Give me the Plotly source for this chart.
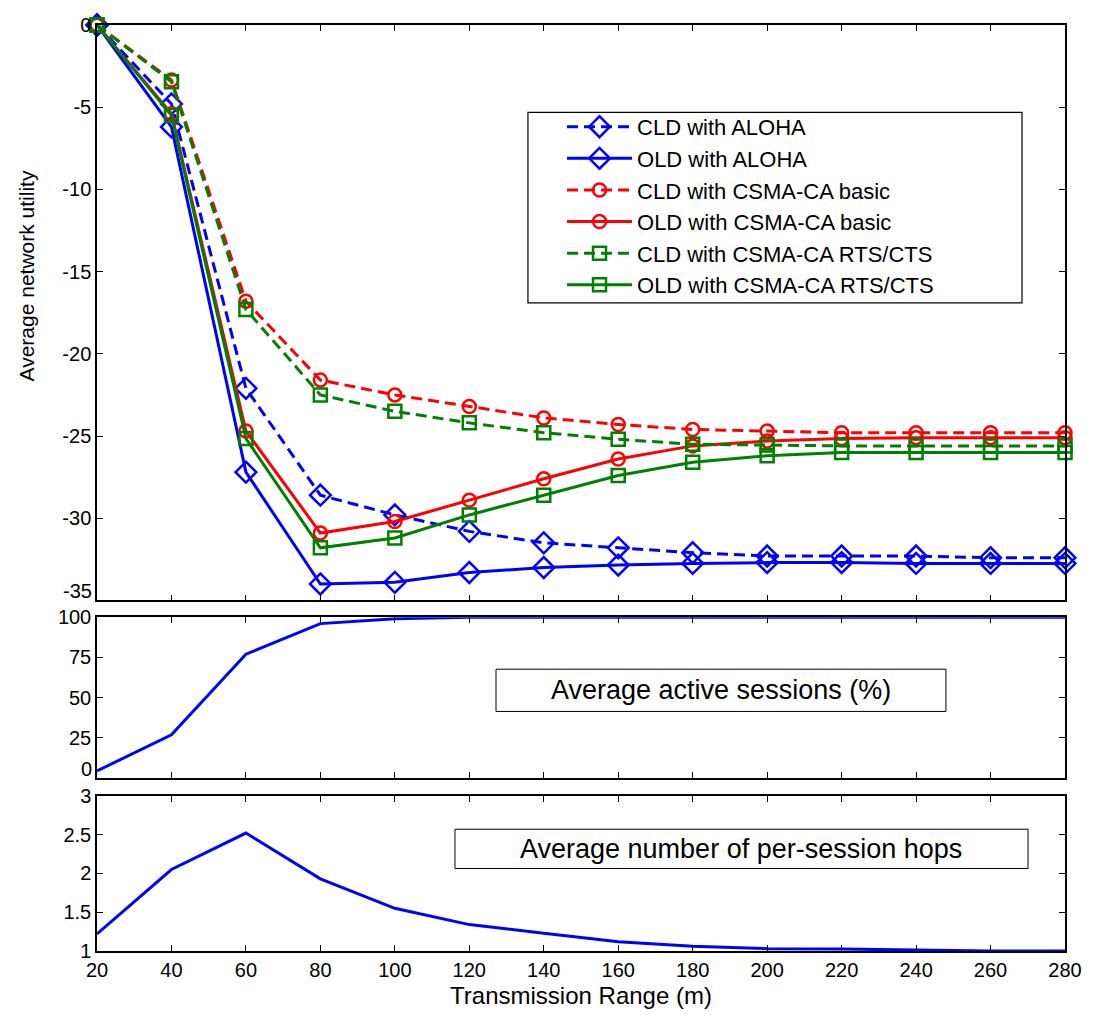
import plotly.graph_objects as go

# ---------------- data ----------------
tx_range = [20, 40, 60, 80, 100, 120, 140, 160, 180, 200, 220, 240, 260, 280]

cld_aloha = [0, -4.8, -22.1, -28.6, -29.8, -30.8, -31.5, -31.8, -32.1, -32.3, -32.3, -32.3, -32.4, -32.4]
old_aloha = [0, -6.2, -27.2, -34.0, -33.9, -33.3, -33.0, -32.85, -32.75, -32.7, -32.7, -32.75, -32.75, -32.75]
cld_basic = [0, -3.35, -16.8, -21.6, -22.5, -23.2, -23.9, -24.3, -24.6, -24.7, -24.8, -24.8, -24.8, -24.8]
old_basic = [0, -5.4, -24.7, -30.9, -30.2, -28.9, -27.6, -26.4, -25.6, -25.3, -25.15, -25.1, -25.1, -25.1]
cld_rts = [0, -3.45, -17.3, -22.5, -23.5, -24.2, -24.8, -25.2, -25.5, -25.55, -25.6, -25.6, -25.6, -25.6]
old_rts = [0, -5.5, -25.15, -31.8, -31.2, -29.8, -28.6, -27.4, -26.6, -26.2, -26.0, -26.0, -26.0, -26.0]

active_sessions = [4.5, 27, 77, 96, 99, 100, 100, 100, 100, 100, 100, 100, 100, 100]
hops = [1.22, 2.05, 2.52, 1.93, 1.55, 1.34, 1.23, 1.12, 1.06, 1.03, 1.025, 1.01, 1.0, 1.0]

series_names = ["CLD with ALOHA", "OLD with ALOHA", "CLD with CSMA-CA basic",
                "OLD with CSMA-CA basic", "CLD with CSMA-CA RTS/CTS", "OLD with CSMA-CA RTS/CTS"]
x_ticks = list(range(20, 281, 20))
y1_ticks = [-35, -30, -25, -20, -15, -10, -5, 0]
y1_labels = ["", "-30", "-25", "-20", "-15", "-10", "-5", "0"]   # -35 drawn separately (nudged up)
y2_ticks = [0, 25, 50, 75, 100]
y2_labels = ["", "25", "50", "75", "100"]                          # 0 drawn separately (nudged up)
y3_ticks = [1, 1.5, 2, 2.5, 3]
y3_labels = ["1", "1.5", "2", "2.5", "3"]

# ---------------- style ----------------
BLUE = "rgb(0,0,255)"
RED = "rgb(255,0,0)"
GREEN = "rgb(0,128,0)"
DASH = "11px,6px"
FONT = "Arial, 'Liberation Sans', sans-serif"
TICKSIZE = 20

fig = go.Figure()

specs = [
    (cld_aloha, BLUE, DASH, "diamond-open", 16),
    (old_aloha, BLUE, "solid", "diamond-open", 16),
    (cld_basic, RED, DASH, "circle-open", 13),
    (old_basic, RED, "solid", "circle-open", 13),
    (cld_rts, GREEN, DASH, "square-open", 13),
    (old_rts, GREEN, "solid", "square-open", 13),
]
for name, (vals, col, dash, sym, sz) in zip(series_names, specs):
    fig.add_trace(go.Scatter(
        x=tx_range, y=vals, name=name, mode="lines+markers",
        line=dict(color=col, width=3, dash=dash),
        marker=dict(symbol=sym, size=sz, color=col, line=dict(color=col, width=2.5)),
        cliponaxis=False, xaxis="x", yaxis="y",
    ))

fig.add_trace(go.Scatter(x=tx_range, y=active_sessions, mode="lines", showlegend=False,
                         line=dict(color=BLUE, width=3), cliponaxis=False,
                         xaxis="x2", yaxis="y2"))
fig.add_trace(go.Scatter(x=tx_range, y=hops, mode="lines", showlegend=False,
                         line=dict(color=BLUE, width=3), cliponaxis=False,
                         xaxis="x3", yaxis="y3"))

ax_common = dict(showline=True, linecolor="black", linewidth=1.5, mirror="ticks",
                 ticks="inside", ticklen=6, tickwidth=1.2, tickcolor="black",
                 showgrid=False, zeroline=False,
                 tickfont=dict(family=FONT, size=TICKSIZE, color="black"))

top_dom = [0.3786, 1.0]
mid_dom = [0.1866, 0.3605]
bot_dom = [0.0, 0.1676]

# page has an 8px body margin; size the figure so the plot area lands where the reference has it
fig.update_layout(
    width=1087, height=1003,
    margin=dict(l=89, r=30, t=6, b=54),
    paper_bgcolor="white", plot_bgcolor="white",
    font=dict(family=FONT, color="black"),
    xaxis=dict(**ax_common, domain=[0, 1], anchor="y", range=[20, 280],
               tickvals=x_ticks, showticklabels=False),
    yaxis=dict(**ax_common, domain=top_dom, anchor="x", range=[-35, 0],
               tickvals=y1_ticks, ticktext=y1_labels),
    xaxis2=dict(**ax_common, domain=[0, 1], anchor="y2", range=[20, 280],
                tickvals=x_ticks, showticklabels=False, matches="x"),
    yaxis2=dict(**ax_common, domain=mid_dom, anchor="x2", range=[0, 100],
                tickvals=y2_ticks, ticktext=y2_labels),
    xaxis3=dict(**ax_common, domain=[0, 1], anchor="y3", range=[20, 280],
                tickvals=x_ticks, matches="x",
                title=dict(text="Transmission Range (m)", standoff=7,
                           font=dict(family=FONT, size=24, color="black"))),
    yaxis3=dict(**ax_common, domain=bot_dom, anchor="x3", range=[1, 3],
                tickvals=y3_ticks, ticktext=y3_labels),
    legend=dict(x=0.4804, y=0.9126, xanchor="left", yanchor="top",
                bgcolor="rgba(0,0,0,0)", borderwidth=0,
                font=dict(family=FONT, size=22, color="black"),
                itemwidth=65, tracegroupgap=0),
    showlegend=True,
)

# lowest tick labels of the upper two panels, nudged up so they clear the panel below
fig.add_annotation(xref="paper", yref="y", x=0, y=y1_ticks[0], xanchor="right", yanchor="bottom",
                   xshift=-3, yshift=-4, text=str(y1_ticks[0]), showarrow=False,
                   font=dict(family=FONT, size=TICKSIZE, color="black"))
fig.add_annotation(xref="paper", yref="y2", x=0, y=y2_ticks[0], xanchor="right", yanchor="bottom",
                   xshift=-3, yshift=-4, text=str(y2_ticks[0]), showarrow=False,
                   font=dict(family=FONT, size=TICKSIZE, color="black"))

# y-axis title (placed like the reference, beside the upper panel)
fig.add_annotation(xref="paper", yref="paper", x=-0.0733, y=0.7285,
                   xanchor="center", yanchor="middle", textangle=-90,
                   text="Average network utility", showarrow=False,
                   font=dict(family=FONT, size=21, color="black"))

# legend frame
fig.add_shape(type="rect", xref="paper", yref="paper",
              x0=0.4452, x1=0.9556, y0=0.6999, y1=0.9056,
              line=dict(color="black", width=1.2), fillcolor="white", layer="below")

# text boxes
fig.add_shape(type="rect", xref="paper", yref="paper",
              x0=0.4122, x1=0.877, y0=0.2587, y1=0.3043,
              line=dict(color="black", width=1), fillcolor="white", layer="below")
fig.add_annotation(xref="paper", yref="paper", x=0.6446, y=0.2815,
                   xanchor="center", yanchor="middle",
                   text="Average active sessions (%)", showarrow=False,
                   font=dict(family=FONT, size=27, color="black"))
fig.add_shape(type="rect", xref="paper", yref="paper",
              x0=0.3698, x1=0.9618, y0=0.0891, y1=0.1315,
              line=dict(color="black", width=1), fillcolor="white", layer="below")
fig.add_annotation(xref="paper", yref="paper", x=0.6658, y=0.1103,
                   xanchor="center", yanchor="middle",
                   text="Average number of per-session hops", showarrow=False,
                   font=dict(family=FONT, size=27, color="black"))

fig.write_html("out.html")
